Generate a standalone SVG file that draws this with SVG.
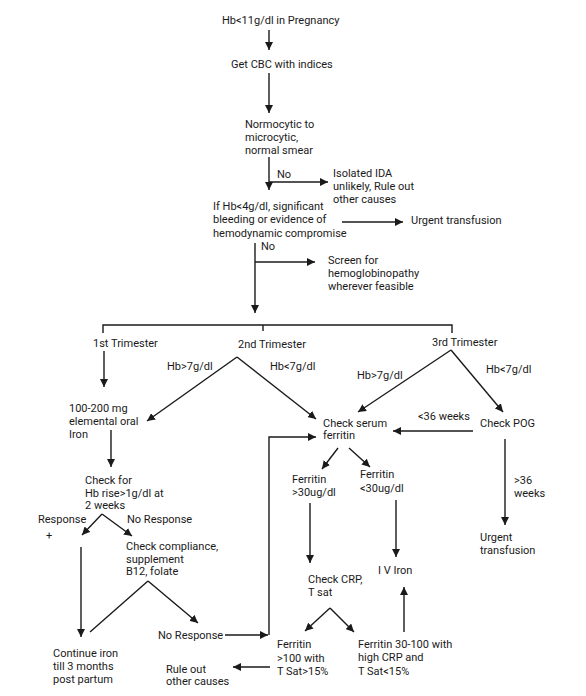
<svg xmlns="http://www.w3.org/2000/svg" width="586" height="696" viewBox="0 0 586 696">
<style>
text{font-family:Roboto,"Liberation Sans",sans-serif;font-size:11px;fill:#1a1a1a}
.c line,.c polyline,.c path{stroke:#1a1a1a;stroke-width:1.4;fill:none}
.a{marker-end:url(#ah)}
</style>
<defs>
<marker id="ah" markerUnits="userSpaceOnUse" markerWidth="9" markerHeight="8" refX="8" refY="4" orient="auto">
<path d="M0,0 L8,4 L0,8 z" fill="#1a1a1a" stroke="none"/>
</marker>
</defs>
<rect width="586" height="696" fill="#fff"/>
<g class="c" id="connectors">
<line class="a" x1="269" y1="30" x2="269" y2="50"/>
<line class="a" x1="269" y1="73" x2="269" y2="113"/>
<line class="a" x1="269" y1="157" x2="269" y2="190"/>
<line class="a" x1="269" y1="182" x2="328" y2="182"/>
<line class="a" x1="342" y1="222" x2="403" y2="222"/>
<line class="a" x1="255" y1="243" x2="255" y2="313"/>
<line class="a" x1="255" y1="262" x2="315" y2="262"/>
<polyline points="103,333 103,325 452,325 452,333"/>
<line x1="263" y1="325" x2="263" y2="331"/>
<line class="a" x1="104" y1="351" x2="104" y2="387"/>
<line class="a" x1="237" y1="357" x2="147" y2="421"/>
<line class="a" x1="237" y1="357" x2="316" y2="419"/>
<line class="a" x1="451" y1="350" x2="358" y2="412"/>
<line class="a" x1="451" y1="350" x2="503" y2="412"/>
<line class="a" x1="111" y1="430" x2="111" y2="467"/>
<line class="a" x1="473" y1="431" x2="393" y2="431"/>
<line class="a" x1="338" y1="448" x2="322" y2="469"/>
<line class="a" x1="349" y1="448" x2="370" y2="467"/>
<line class="a" x1="505" y1="439" x2="505" y2="525"/>
<line class="a" x1="310" y1="503" x2="310" y2="563"/>
<line class="a" x1="396" y1="500" x2="396" y2="557"/>
<line class="a" x1="102" y1="514" x2="82" y2="535"/>
<line class="a" x1="102" y1="514" x2="132" y2="536"/>
<line class="a" x1="81" y1="547" x2="81" y2="637"/>
<line x1="148" y1="581" x2="90" y2="632"/>
<line class="a" x1="148" y1="581" x2="198" y2="623"/>
<line class="a" x1="225" y1="635" x2="268" y2="635"/>
<polyline class="a" points="269,635 269,437 316,437"/>
<line class="a" x1="330" y1="608" x2="305" y2="631"/>
<line class="a" x1="330" y1="608" x2="354" y2="632"/>
<line class="a" x1="404" y1="632" x2="404" y2="587"/>
<line class="a" x1="270" y1="667" x2="233" y2="667"/>
</g>
<g id="n-start"><text x="222" y="24">Hb&lt;11g/dl in Pregnancy</text></g>
<g id="n-cbc"><text x="231" y="68">Get CBC with indices</text></g>
<g id="n-normo"><text x="245" y="128">Normocytic to</text><text x="245" y="141">microcytic,</text><text x="245" y="154">normal smear</text></g>
<g id="l-no1"><text x="277" y="178">No</text></g>
<g id="n-isolated"><text x="333" y="177">Isolated IDA</text><text x="333" y="190">unlikely, Rule out</text><text x="333" y="203">other causes</text></g>
<g id="n-hb4"><text x="213" y="210">If Hb&lt;4g/dl, significant</text><text x="213" y="223">bleeding or evidence of</text><text x="213" y="237">hemodynamic compromise</text></g>
<g id="n-urgent1"><text x="411" y="224">Urgent transfusion</text></g>
<g id="l-no2"><text x="261" y="250">No</text></g>
<g id="n-screen"><text x="328" y="264">Screen for</text><text x="328" y="277">hemoglobinopathy</text><text x="328" y="290">wherever feasible</text></g>
<g id="n-t1"><text x="93" y="347">1st Trimester</text></g>
<g id="n-t2"><text x="238" y="348">2nd Trimester</text></g>
<g id="n-t3"><text x="432" y="346">3rd Trimester</text></g>
<g id="l-t2a"><text x="167" y="370">Hb&gt;7g/dl</text></g>
<g id="l-t2b"><text x="270" y="370">Hb&lt;7g/dl</text></g>
<g id="l-t3a"><text x="357" y="379">Hb&gt;7g/dl</text></g>
<g id="l-t3b"><text x="486" y="373">Hb&lt;7g/dl</text></g>
<g id="n-oral"><text x="69" y="412">100-200 mg</text><text x="69" y="425">elemental oral</text><text x="69" y="438">Iron</text></g>
<g id="n-ferritin"><text x="323" y="427">Check serum</text><text x="323" y="439">ferritin</text></g>
<g id="l-lt36"><text x="418" y="420">&lt;36 weeks</text></g>
<g id="n-pog"><text x="480" y="427">Check POG</text></g>
<g id="n-checkhb"><text x="85" y="484">Check for</text><text x="85" y="497">Hb rise&gt;1g/dl at</text><text x="85" y="509">2 weeks</text></g>
<g id="n-fgt30"><text x="292" y="483">Ferritin</text><text x="292" y="496">&gt;30ug/dl</text></g>
<g id="n-flt30"><text x="360" y="478">Ferritin</text><text x="360" y="492">&lt;30ug/dl</text></g>
<g id="l-gt36"><text x="514" y="484">&gt;36</text><text x="514" y="497">weeks</text></g>
<g id="l-resp"><text x="38" y="523">Response</text><text x="46" y="539">+</text></g>
<g id="l-noresp1"><text x="127" y="523">No Response</text></g>
<g id="n-urgent2"><text x="480" y="541">Urgent</text><text x="480" y="554">transfusion</text></g>
<g id="n-compliance"><text x="126" y="550">Check compliance,</text><text x="126" y="563">supplement</text><text x="126" y="575">B12, folate</text></g>
<g id="n-iviron"><text x="378" y="574">I V Iron</text></g>
<g id="n-crp"><text x="308" y="583">Check CRP,</text><text x="308" y="596">T sat</text></g>
<g id="n-noresp2"><text x="158" y="639">No Response</text></g>
<g id="n-f100"><text x="277" y="648">Ferritin</text><text x="277" y="662">&gt;100 with</text><text x="277" y="675">T Sat&gt;15%</text></g>
<g id="n-f30100"><text x="358" y="648">Ferritin 30-100 with</text><text x="358" y="661">high CRP and</text><text x="358" y="675">T Sat&lt;15%</text></g>
<g id="n-continue"><text x="53" y="657">Continue iron</text><text x="53" y="670">till 3 months</text><text x="53" y="683">post partum</text></g>
<g id="n-ruleout"><text x="166" y="673">Rule out</text><text x="166" y="685">other causes</text></g>
</svg>
